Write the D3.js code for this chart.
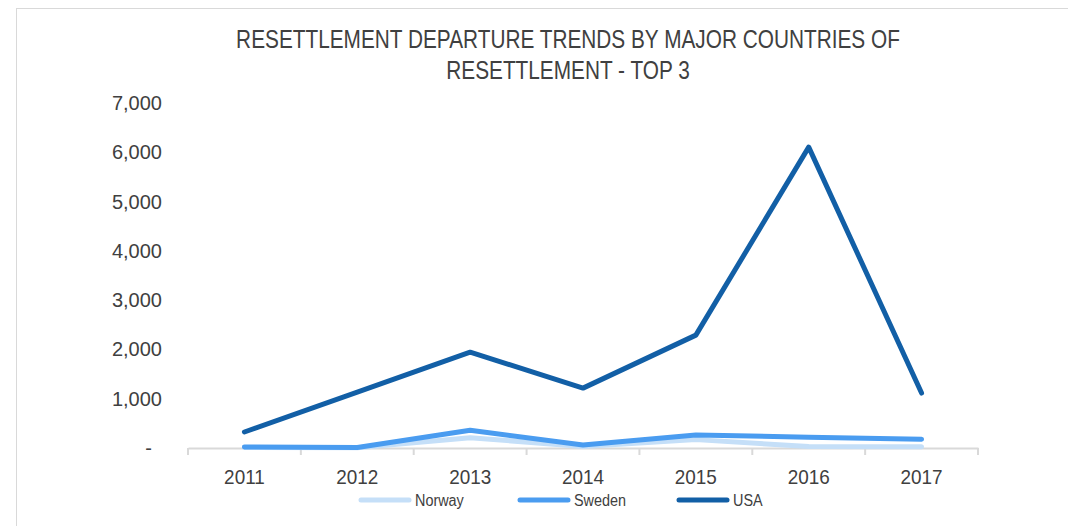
<!DOCTYPE html>
<html><head><meta charset="utf-8">
<script src="https://cdn.jsdelivr.net/npm/d3@7"></script>
<style>body{margin:0;background:#fff}svg{display:block}text{font-family:"Liberation Sans Narrow","Arial Narrow","Liberation Sans",sans-serif;fill:#404040}</style>
</head><body><svg id="c" width="1068" height="526"></svg>
<script>
const years = ["2011","2012","2013","2014","2015","2016","2017"];
const norway = [10, 5, 210, 30, 170, 30, 25];
const sweden = [20, 10, 360, 60, 265, 220, 180];
const usa = [325, 1135, 1945, 1215, 2290, 6105, 1115];
const yTicks = [0,1000,2000,3000,4000,5000,6000,7000];
const seriesNames = ["Norway","Sweden","USA"];
const seriesColors = ["#c5dff8","#4a9cf0","#125fa6"];
const titleLines = ["RESETTLEMENT DEPARTURE TRENDS BY MAJOR COUNTRIES OF","RESETTLEMENT - TOP 3"];

const svg = d3.select("#c");
function condense(sel, f){
  sel.each(function(){ const w=this.getComputedTextLength(); d3.select(this).attr("textLength",w*f).attr("lengthAdjust","spacingAndGlyphs"); });
}
svg.append("rect").attr("x",16.5).attr("y",8.5).attr("width",1060).attr("height",530).attr("fill","none").attr("stroke","#d9d9d9");
const tl = svg.selectAll(".title").data(titleLines).join("text").attr("class","title")
  .attr("x",568).attr("y",(d,i)=>48+i*31).attr("text-anchor","middle").style("font-size","26px").text(d=>d);
condense(tl, 0.8);

const x = d3.scaleBand().domain(years).range([188,978]);
const y = d3.scaleLinear().domain([0,7000]).range([448,103]);

const fmt = v => v===0 ? "-" : d3.format(",")(v);
svg.append("g").selectAll("text").data(yTicks).join("text")
  .attr("x", d=> d===0 ? 152 : 162).attr("y", d=>y(d)+7).attr("text-anchor","end")
  .style("font-size","20px").text(fmt);

const xa = svg.append("g").attr("transform","translate(0,448)")
  .call(d3.axisBottom(x).tickSize(0).tickPadding(21));
xa.select(".domain").attr("stroke","#d9d9d9").attr("stroke-width",2);
xa.selectAll("text").style("font-size","21px").attr("fill","#404040");
condense(xa.selectAll("text"), 0.9);
const edges = years.map(d=>x(d)).concat([x.range()[1]]);
xa.selectAll(".edge").data(edges).join("line").attr("class","edge")
  .attr("x1",d=>d).attr("x2",d=>d).attr("y1",0).attr("y2",7).attr("stroke","#d9d9d9").attr("stroke-width",2);

const line = d3.line().x((d,i)=>x(years[i])+x.bandwidth()/2).y(d=>y(d));
[norway,sweden,usa].forEach((s,i)=>{
  svg.append("path").datum(s).attr("d",line).attr("fill","none")
    .attr("stroke",seriesColors[i]).attr("stroke-width",5).attr("stroke-linejoin","round").attr("stroke-linecap","round");
});

const legX = [359,518,677];
seriesNames.forEach((n,i)=>{
  svg.append("line").attr("x1",legX[i]+2).attr("x2",legX[i]+50).attr("y1",500).attr("y2",500)
    .attr("stroke",seriesColors[i]).attr("stroke-width",5).attr("stroke-linecap","round");
  const t = svg.append("text").attr("x",legX[i]+56).attr("y",506).style("font-size","16px").text(n);
  condense(t, 0.9);
});
</script></body></html>
